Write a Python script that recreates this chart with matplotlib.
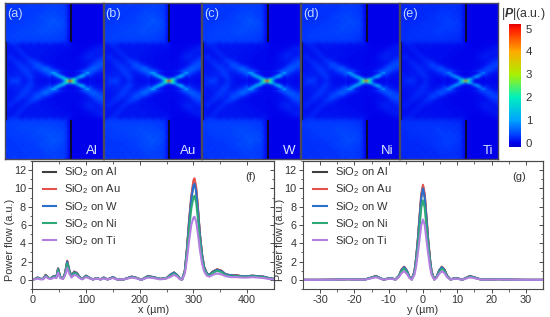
import numpy as np
import matplotlib
matplotlib.use("Agg")
import matplotlib.pyplot as plt
from matplotlib.colors import LinearSegmentedColormap, Normalize
from matplotlib.cm import ScalarMappable

plt.rcParams["font.family"] = ["Liberation Sans", "DejaVu Sans"]
plt.rcParams["mathtext.fontset"] = "custom"
plt.rcParams["mathtext.rm"] = "Liberation Sans"
plt.rcParams["mathtext.bfit"] = "Liberation Sans:italic:bold"
plt.rcParams["mathtext.default"] = "regular"
plt.rcParams["axes.unicode_minus"] = False

W, H = 550.0, 317.0
TEXTO = "#333333"
BORDE = "#4a4a4a"

# --- mapas de campo ---
paneles = ["(a)", "(b)", "(c)", "(d)", "(e)"]
metales = ["Al", "Au", "W", "Ni", "Ti"]
escala_panel = [1.0, 0.98, 0.96, 0.88, 0.72]
izq_panel = [5, 103.5, 202, 301, 400]

# mitad superior del mapa (centesimas de u.a.), la inferior es el espejo
mapa_mitad = [
    [32, 24, 38, 24, 36, 24, 40, 26, 38, 24, 42, 26, 46, 30, 40, 26, 0, 0, 0, 0, 0, 0, 0, 0, 0],
    [24, 38, 24, 36, 24, 40, 24, 38, 24, 42, 30, 48, 26, 46, 26, 38, 0, 0, 0, 0, 0, 0, 0, 0, 0],
    [38, 24, 36, 24, 40, 24, 38, 26, 42, 26, 52, 28, 56, 26, 46, 26, 0, 0, 0, 0, 0, 0, 0, 0, 0],
    [22, 36, 24, 38, 24, 38, 26, 42, 30, 56, 28, 58, 30, 52, 28, 40, 0, 0, 0, 0, 0, 0, 0, 0, 0],
    [36, 24, 38, 26, 38, 26, 42, 28, 46, 28, 56, 32, 66, 32, 56, 26, 0, 0, 0, 0, 0, 0, 0, 0, 0],
    [24, 38, 26, 42, 26, 46, 28, 48, 30, 52, 32, 62, 30, 58, 30, 46, 0, 0, 0, 0, 0, 0, 0, 0, 0],
    [38, 26, 42, 28, 46, 28, 48, 30, 52, 32, 58, 32, 56, 32, 52, 26, 0, 0, 0, 0, 0, 0, 0, 0, 0],
    [24, 42, 28, 46, 30, 48, 30, 48, 32, 56, 32, 52, 32, 48, 28, 40, 0, 0, 0, 0, 0, 0, 0, 0, 0],
    [42, 28, 46, 30, 46, 30, 48, 30, 46, 30, 48, 30, 46, 28, 42, 26, 0, 0, 0, 0, 0, 0, 0, 0, 0],
    [26, 42, 28, 42, 28, 42, 28, 42, 28, 40, 30, 40, 28, 38, 26, 32, 0, 0, 0, 0, 0, 0, 0, 0, 0],
    [10, 16, 26, 12, 8, 16, 8, 16, 8, 14, 8, 14, 6, 12, 6, 10, 10, 3, 2, 2, 2, 3, 4, 6, 10],
    [14, 8, 14, 26, 10, 8, 16, 8, 14, 8, 14, 6, 12, 6, 8, 6, 6, 3, 2, 2, 4, 6, 10, 16, 18],
    [8, 14, 8, 16, 28, 10, 8, 14, 8, 14, 6, 12, 6, 8, 6, 5, 5, 3, 3, 6, 10, 16, 20, 14, 12],
    [16, 28, 10, 8, 14, 30, 12, 8, 14, 6, 12, 6, 8, 5, 5, 5, 4, 3, 5, 8, 16, 22, 16, 12, 24],
    [10, 14, 28, 22, 12, 14, 40, 30, 14, 8, 8, 6, 6, 5, 5, 5, 4, 4, 5, 8, 10, 12, 14, 30, 36],
    [14, 10, 16, 32, 24, 24, 12, 46, 60, 28, 12, 8, 6, 5, 5, 5, 4, 4, 5, 6, 8, 12, 32, 50, 52],
    [10, 16, 12, 18, 38, 26, 24, 24, 32, 62, 85, 40, 14, 8, 6, 5, 5, 5, 6, 8, 16, 48, 70, 50, 26],
    [16, 10, 22, 14, 20, 40, 22, 14, 14, 22, 32, 78, 100, 50, 16, 8, 6, 6, 12, 36, 90, 70, 24, 14, 10],
    [18, 24, 12, 28, 14, 22, 38, 16, 10, 10, 12, 16, 28, 70, 90, 50, 10, 40, 90, 60, 22, 14, 10, 8, 8],
    [14, 30, 46, 32, 14, 12, 24, 14, 8, 6, 6, 8, 10, 14, 16, 12, 6, 10, 14, 12, 8, 6, 5, 4, 4],
]

# detalle fino del foco (celdas de 2 px), mitad superior
foco_mitad = [
    [85, 105, 75, 28, 14, 9, 7, 6, 5, 5, 5, 6, 7, 8, 10, 18, 40, 80, 100],
    [30, 65, 115, 130, 80, 26, 12, 8, 6, 6, 6, 8, 10, 16, 44, 100, 120, 70, 30],
    [14, 20, 30, 70, 135, 155, 100, 28, 12, 8, 10, 14, 34, 100, 155, 120, 55, 20, 12],
    [8, 10, 12, 16, 28, 65, 150, 200, 140, 70, 150, 210, 160, 60, 18, 12, 8, 8, 6],
    [6, 6, 8, 10, 12, 18, 60, 170, 360, 500, 380, 180, 60, 14, 8, 6, 6, 5, 4],
]

cbar_ticks = [0, 1, 2, 3, 4, 5]

# --- perfil en x ---
x_um = [0, 5, 10, 15, 20, 25, 30, 35, 40, 45, 48, 52, 57, 61, 65, 69, 73, 78, 83, 88, 93, 100, 107, 113, 120,
        127, 133, 140, 150, 158, 170, 185, 195, 203, 215, 225, 238, 250, 258, 264, 270, 275, 279, 284, 288,
        292, 296, 300, 302, 305, 308, 312, 316, 320, 325, 330, 336, 344, 352, 360, 370, 380, 390, 400, 410,
        420, 430, 440, 450]
x_al = [0.05, 0.1, 0.25, 0.1, 0.1, 0.55, 0.2, 0.2, 0.4, 0.35, 1.25, 0.3, 0.15, 0.7, 2.05, 1.0, 0.4, 0.9, 0.75, 0.3, 0.1, 0.45, 0.2, 0.05, 0.2,
        0.05, 0.25, 0.05, 0.3, 0.05, 0.05, 0.35, 0.2, 0.0, 0.4, 0.3, 0.1, 0.2, 0.6, 0.8, 0.5, 0.1, 0.05, 1.0, 3.4,
        6.4, 8.9, 10.5, 10.7, 9.9, 8.0, 5.0, 2.8, 1.4, 0.7, 0.55, 0.9, 1.15, 1.0, 0.6, 0.5, 0.5, 0.4, 0.4, 0.45,
        0.4, 0.35, 0.2, 0.1]
x_au = [0.05, 0.1, 0.25, 0.1, 0.1, 0.55, 0.2, 0.2, 0.4, 0.35, 1.25, 0.3, 0.15, 0.7, 2.1, 1.0, 0.4, 0.9, 0.75, 0.3, 0.1, 0.45, 0.2, 0.05, 0.2,
        0.05, 0.25, 0.05, 0.3, 0.05, 0.05, 0.35, 0.2, 0.0, 0.4, 0.3, 0.1, 0.2, 0.6, 0.8, 0.5, 0.1, 0.05, 1.0, 3.5,
        6.6, 9.2, 10.9, 11.1, 10.2, 8.2, 5.1, 2.8, 1.4, 0.7, 0.55, 0.9, 1.15, 1.0, 0.6, 0.5, 0.5, 0.4, 0.4, 0.45,
        0.4, 0.35, 0.2, 0.1]
x_w = [0.05, 0.1, 0.25, 0.1, 0.1, 0.5, 0.2, 0.2, 0.4, 0.35, 1.2, 0.3, 0.15, 0.7, 2.0, 1.0, 0.4, 0.85, 0.7, 0.3, 0.1, 0.45, 0.2, 0.05, 0.2,
       0.05, 0.25, 0.05, 0.3, 0.05, 0.05, 0.35, 0.2, 0.0, 0.4, 0.3, 0.1, 0.2, 0.6, 0.8, 0.5, 0.1, 0.05, 1.0, 3.3,
       6.3, 8.8, 10.3, 10.5, 9.7, 7.8, 4.9, 2.7, 1.35, 0.7, 0.55, 0.85, 1.1, 0.95, 0.6, 0.5, 0.45, 0.4, 0.4, 0.45,
       0.4, 0.35, 0.2, 0.1]
x_ni = [0.05, 0.1, 0.2, 0.1, 0.1, 0.45, 0.2, 0.15, 0.35, 0.3, 1.1, 0.25, 0.15, 0.6, 1.8, 0.9, 0.35, 0.75, 0.65, 0.25, 0.1, 0.4, 0.2, 0.05, 0.2,
        0.05, 0.2, 0.05, 0.25, 0.05, 0.05, 0.3, 0.2, 0.0, 0.35, 0.25, 0.1, 0.2, 0.5, 0.7, 0.45, 0.1, 0.05, 0.9, 3.0,
        5.6, 7.8, 9.0, 9.2, 8.5, 6.9, 4.3, 2.4, 1.2, 0.6, 0.5, 0.75, 1.0, 0.85, 0.5, 0.4, 0.4, 0.35, 0.35, 0.4,
        0.35, 0.3, 0.15, 0.1]
x_ti = [0.05, 0.05, 0.15, 0.05, 0.05, 0.35, 0.15, 0.1, 0.25, 0.2, 0.8, 0.2, 0.1, 0.45, 1.3, 0.65, 0.25, 0.55, 0.45, 0.2, 0.05, 0.3, 0.15, 0.05, 0.15,
        0.05, 0.15, 0.05, 0.2, 0.05, 0.05, 0.25, 0.15, 0.0, 0.25, 0.2, 0.05, 0.15, 0.35, 0.55, 0.35, 0.05, 0.05, 0.7, 2.3,
        4.3, 6.0, 6.8, 6.9, 6.4, 5.2, 3.3, 1.8, 0.9, 0.45, 0.35, 0.55, 0.7, 0.6, 0.4, 0.3, 0.3, 0.25, 0.25, 0.3,
        0.25, 0.2, 0.1, 0.05]

# --- perfil en y ---
y_um = [-35, -30, -25, -22, -19, -17, -15.5, -13.7, -12.5, -11.5, -10.5, -9.5, -8.5, -8, -7, -6.3, -5.5, -4.7, -4, -3.3,
        -2.5, -2, -1.5, -1, -0.5, 0, 0.5, 1, 1.5, 2, 2.5, 3.3, 4, 4.7, 5.5, 6.3, 7, 8, 8.5, 9.5, 10.5, 11.5, 12.5, 13.7,
        15.5, 17, 19, 22, 25, 30, 35]
y_al = [0, 0, 0.02, 0.08, 0.02, 0.03, 0.2, 0.42, 0.2, 0.02, 0.12, 0.2, 0.1, 0.05, 0.45, 1.1, 1.4, 1.0, 0.35, 0.05,
        0.9, 2.4, 4.4, 6.8, 9.2, 10.2, 9.2, 6.8, 4.4, 2.4, 0.9, 0.05, 0.35, 1.0, 1.4, 1.1, 0.45, 0.05, 0.1, 0.2, 0.12, 0.02, 0.2, 0.42,
        0.2, 0.03, 0.02, 0.08, 0.02, 0, 0]
y_au = [0, 0, 0.02, 0.08, 0.02, 0.03, 0.2, 0.42, 0.2, 0.02, 0.12, 0.2, 0.1, 0.05, 0.45, 1.1, 1.45, 1.0, 0.35, 0.05,
        0.9, 2.4, 4.5, 7.0, 9.4, 10.4, 9.4, 7.0, 4.5, 2.4, 0.9, 0.05, 0.35, 1.0, 1.45, 1.1, 0.45, 0.05, 0.1, 0.2, 0.12, 0.02, 0.2, 0.42,
        0.2, 0.03, 0.02, 0.08, 0.02, 0, 0]
y_w = [0, 0, 0.02, 0.08, 0.02, 0.03, 0.2, 0.4, 0.2, 0.02, 0.12, 0.2, 0.1, 0.05, 0.45, 1.05, 1.4, 1.0, 0.35, 0.05,
       0.85, 2.3, 4.3, 6.7, 9.0, 10.0, 9.0, 6.7, 4.3, 2.3, 0.85, 0.05, 0.35, 1.0, 1.4, 1.05, 0.45, 0.05, 0.1, 0.2, 0.12, 0.02, 0.2, 0.4,
       0.2, 0.03, 0.02, 0.08, 0.02, 0, 0]
y_ni = [0, 0, 0.02, 0.07, 0.02, 0.03, 0.18, 0.36, 0.18, 0.02, 0.1, 0.17, 0.08, 0.04, 0.4, 0.95, 1.25, 0.85, 0.3, 0.04,
        0.75, 2.0, 3.8, 5.8, 7.9, 8.7, 7.9, 5.8, 3.8, 2.0, 0.75, 0.04, 0.3, 0.85, 1.25, 0.95, 0.4, 0.04, 0.08, 0.17, 0.1, 0.02, 0.18, 0.36,
        0.18, 0.03, 0.02, 0.07, 0.02, 0, 0]
y_ti = [0, 0, 0.02, 0.05, 0.02, 0.02, 0.14, 0.28, 0.14, 0.01, 0.08, 0.13, 0.06, 0.03, 0.3, 0.72, 0.95, 0.65, 0.22, 0.03,
        0.55, 1.5, 2.9, 4.4, 6.0, 6.6, 6.0, 4.4, 2.9, 1.5, 0.55, 0.03, 0.22, 0.65, 0.95, 0.72, 0.3, 0.03, 0.06, 0.13, 0.08, 0.01, 0.14, 0.28,
        0.14, 0.02, 0.02, 0.05, 0.02, 0, 0]

etiquetas = ["SiO$_2$ on Al", "SiO$_2$ on Au", "SiO$_2$ on W", "SiO$_2$ on Ni", "SiO$_2$ on Ti"]
colores = ["#3f3f3f", "#e4524d", "#2a6fc9", "#2fa878", "#b27fe0"]


def ejes_px(fig, izq, arriba, der, abajo):
    # caja en pixeles de la imagen (origen arriba a la izquierda)
    return fig.add_axes([izq / W, 1 - abajo / H, (der - izq) / W, (abajo - arriba) / H])


def dibujar_mapa(fig, izq, etiqueta, metal, factor, cmap, norm):
    ax = ejes_px(fig, izq, 3, izq + 98, 159)
    mitad = np.array(mapa_mitad) / 100.0
    mapa = np.vstack([mitad, mitad[-2::-1]]) * factor
    ax.imshow(mapa, cmap=cmap, norm=norm, extent=[0, 98, 156, 0], aspect="auto", interpolation="bicubic")
    # foco con mas resolucion encima
    m_foco = np.array(foco_mitad) / 100.0
    foco = np.vstack([m_foco, m_foco[-2::-1]]) * factor
    foco[4, 9] = 5.0 * max(factor, 0.85)
    ax.imshow(foco, cmap=cmap, norm=norm, extent=[46, 84, 87, 69], aspect="auto", interpolation="bicubic")
    # zona sin luz a la derecha de la abertura
    fondo = cmap(norm(0.0))
    ax.fill_between([66, 98], 0, 39, color=fondo, lw=0)
    ax.fill_between([66, 98], 117, 156, color=fondo, lw=0)
    # rendijas
    ax.plot([66, 66], [0, 39], color="#0a0a20", lw=1.3, solid_capstyle="butt")
    ax.plot([66, 66], [117, 156], color="#0a0a20", lw=1.3, solid_capstyle="butt")
    ax.plot([0.5, 0.5], [39, 117], color="#0a0a20", lw=1.3, solid_capstyle="butt")
    ax.set_xlim(0, 98)
    ax.set_ylim(156, 0)
    ax.set_xticks([])
    ax.set_yticks([])
    for s in ax.spines.values():
        s.set_color("#4a4a5a")
        s.set_linewidth(1.0)
    ax.text(2, 11, etiqueta, color="#c4d4ff", fontsize=9.2, va="center", ha="left")
    ax.text(93, 148, metal, color="#dde6ff", fontsize=9.5, va="center", ha="right")


def dibujar_perfil(fig, caja, xs, series, xlim, xticks, xmenor, xlabel, letra, letra_x, leyenda_x, ylab_x):
    ax = ejes_px(fig, *caja)
    for valores, etiqueta, color in zip(series, etiquetas, colores):
        ax.plot(xs, valores, color=color, lw=1.5, label=etiqueta)
    ax.set_xlim(*xlim)
    ax.set_ylim(-1, 13)
    ax.set_xticks(xticks)
    ax.set_xticks(xmenor, minor=True)
    ax.set_yticks(range(0, 13, 2))
    ax.set_yticks(range(-1, 14, 2), minor=True)
    ax.tick_params(which="major", length=3, width=0.7, color=BORDE, labelsize=7.8, labelcolor=TEXTO, pad=1.5)
    ax.tick_params(which="minor", length=1.8, width=0.6, color=BORDE)
    # marcas hacia dentro arriba y a la derecha
    sup = ax.secondary_xaxis("top")
    sup.set_xticks(xticks)
    sup.set_xticks(xmenor, minor=True)
    sup.tick_params(which="major", direction="in", length=3, width=0.7, color=BORDE, labeltop=False)
    sup.tick_params(which="minor", direction="in", length=1.8, width=0.6, color=BORDE)
    der = ax.secondary_yaxis("right")
    der.set_yticks(range(0, 13, 2))
    der.set_yticks(range(-1, 14, 2), minor=True)
    der.tick_params(which="major", direction="in", length=3, width=0.7, color=BORDE, labelright=False)
    der.tick_params(which="minor", direction="in", length=1.8, width=0.6, color=BORDE)
    for s in list(ax.spines.values()) + list(sup.spines.values()) + list(der.spines.values()):
        s.set_color(BORDE)
        s.set_linewidth(0.8)
    ax.set_xlabel(xlabel, fontsize=7.8, color=TEXTO, labelpad=0)
    fig.text(ylab_x / W, 1 - 240 / H, "Power flow (a.u.)", fontsize=7.8, color=TEXTO, rotation=90,
             ha="center", va="center")
    ax.text(letra_x, 11.3, letra, fontsize=8, color=TEXTO, ha="center", va="center")
    ley = ax.legend(loc="upper left", bbox_to_anchor=(leyenda_x, 1.0), frameon=False, fontsize=8,
                    handlelength=1.2, handletextpad=0.7, labelspacing=0.3, borderaxespad=0.2, borderpad=0.2)
    for texto in ley.get_texts():
        texto.set_color(TEXTO)
    return ax


def main():
    fig = plt.figure(figsize=(W / 100, H / 100), dpi=100)

    norm = Normalize(-0.17, 5.2)
    paradas = [(-0.17, (0, 0, 205)), (0.0, (0, 0, 235)), (0.3, (0, 55, 255)), (1.0, (0, 165, 255)),
               (2.0, (0, 240, 190)), (3.0, (170, 240, 0)), (4.0, (255, 170, 0)), (5.0, (255, 25, 0)),
               (5.2, (225, 0, 0))]
    cmap = LinearSegmentedColormap.from_list(
        "campo", [(norm(v), tuple(c / 255 for c in rgb)) for v, rgb in paradas])

    for izq, etiqueta, metal, factor in zip(izq_panel, paneles, metales, escala_panel):
        dibujar_mapa(fig, izq, etiqueta, metal, factor, cmap, norm)

    # barra de color
    cax = ejes_px(fig, 509, 24, 521, 147)
    barra = fig.colorbar(ScalarMappable(norm=norm, cmap=cmap), cax=cax, ticks=cbar_ticks)
    barra.ax.tick_params(length=0, labelsize=8.2, labelcolor=TEXTO, pad=3.5)
    barra.outline.set_visible(False)
    fig.text(523 / W, 1 - 14 / H, r"|$\mathbfit{P}$|(a.u.)", fontsize=8.8, color=TEXTO, ha="center", va="center")

    dibujar_perfil(fig, (32.3, 161, 274, 289), x_um, [x_al, x_au, x_w, x_ni, x_ti], (0, 450),
                   [0, 100, 200, 300, 400], [50, 150, 250, 350], "x (µm)", "(f)", 406, 0.025, 10)
    dibujar_perfil(fig, (303, 161, 543, 289), y_um, [y_al, y_au, y_w, y_ni, y_ti], (-35, 35),
                   [-30, -20, -10, 0, 10, 20, 30], [-25, -15, -5, 5, 15, 25], "y (µm)", "(g)", 28, 0.025, 280)

    fig.savefig("out.png", dpi=100)


main()
